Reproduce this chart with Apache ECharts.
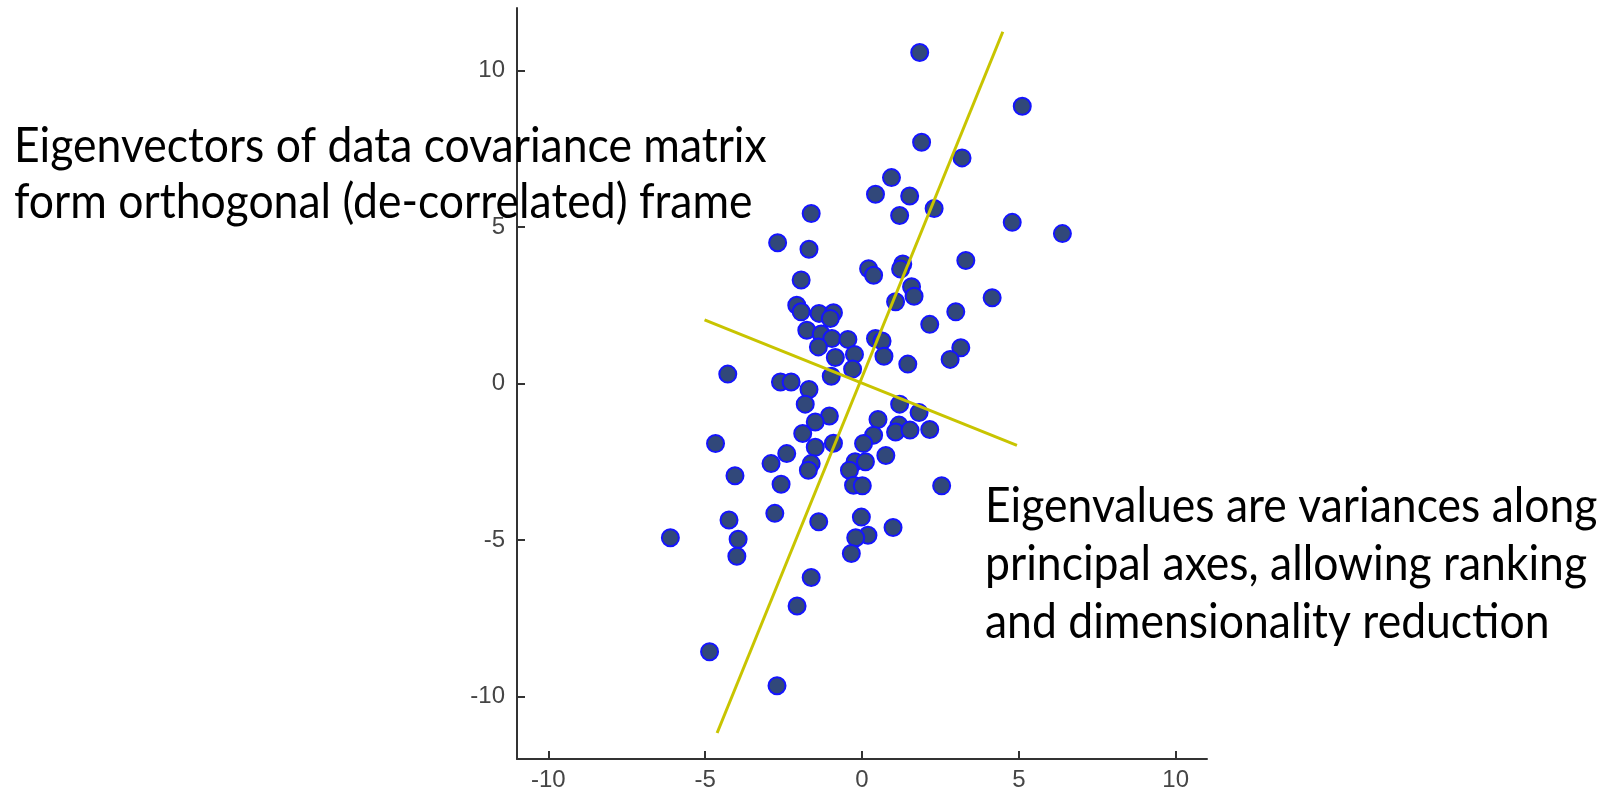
<!DOCTYPE html>
<html>
<head>
<meta charset="utf-8">
<script src="https://cdn.jsdelivr.net/npm/echarts@6/dist/echarts.min.js"></script>
<style>
  html, body { margin: 0; padding: 0; background: #ffffff; }
  #chart { width: 1612px; height: 795px; }
</style>
</head>
<body>
<div id="chart"></div>
<script>
// Tick positions on both axes
const xTicks = [-10, -5, 0, 5, 10];
const yTicks = [-10, -5, 0, 5, 10];

// Sample cloud (x, y)
const sampleX = [
  1.84, 5.11, 1.90, 3.19, 0.94, 0.43, 1.52, 2.30, 1.20, 4.79,
  6.39, -1.62, -2.69, -1.69, 3.31, 0.21, 0.37, 1.30, 1.23, 1.58,
  1.66, 1.07, 4.15, 2.99, 2.16, -1.94, -2.08, -1.94, -1.37, -0.91,
  -1.01, -1.76, -1.30, -0.96, -0.45, 0.43, 0.64, 0.70, -1.39, -0.85,
  -0.24, -0.30, -0.98, 3.15, 2.81, 1.46, -4.28, -2.60, -2.26, -1.69,
  -1.81, 1.20, 1.82, 0.51, -1.04, -1.49, 1.18, 1.07, 1.53, 2.16,
  0.37, -1.89, 0.05, -0.91, -1.49, -4.67, -2.40, 0.76, -2.90, -1.62,
  -1.71, -0.22, 0.11, -0.40, -4.05, -2.58, -0.27, 0.01, 2.54, -2.78,
  -4.24, -1.38, -0.02, 0.99, -6.11, -3.95, -3.99, 0.19, -0.20, -0.34,
  -1.62, -2.07, -4.86, -2.71
];
const sampleY = [
  10.58, 8.86, 7.71, 7.21, 6.58, 6.05, 5.99, 5.59, 5.37, 5.15,
  4.79, 5.43, 4.50, 4.29, 3.93, 3.67, 3.46, 3.82, 3.66, 3.09,
  2.79, 2.61, 2.74, 2.29, 1.89, 3.31, 2.50, 2.29, 2.24, 2.26,
  2.08, 1.70, 1.58, 1.44, 1.41, 1.44, 1.36, 0.87, 1.17, 0.83,
  0.93, 0.46, 0.23, 1.14, 0.77, 0.62, 0.30, 0.05, 0.05, -0.19,
  -0.66, -0.66, -0.93, -1.15, -1.04, -1.23, -1.33, -1.55, -1.49, -1.47,
  -1.65, -1.60, -1.92, -1.91, -2.04, -1.92, -2.24, -2.30, -2.56, -2.56,
  -2.77, -2.50, -2.50, -2.77, -2.95, -3.22, -3.25, -3.27, -3.27, -4.15,
  -4.36, -4.42, -4.27, -4.60, -4.93, -4.98, -5.52, -4.85, -4.93, -5.43,
  -6.20, -7.11, -8.57, -9.66
];

// Principal axes drawn as segments (end points)
const majorAxis = [[-4.62, -11.17], [4.49, 11.24]];
const minorAxis = [[-5.02, 2.03], [4.94, -1.98]];

// Annotation text
const noteUpper = ['Eigenvectors of data covariance matrix', 'form orthogonal (de-correlated) frame'];
const noteLower = ['Eigenvalues are variances along', 'principal axes, allowing ranking', 'and dimensionality reduction'];

const points = sampleX.map((x, i) => [x, sampleY[i]]);

const axisColor = '#333333';
const labelStyle = { color: '#454545', fontFamily: 'Liberation Sans', fontSize: 24 };
const noteFont = { fontFamily: 'Lato', fontSize: 48, fill: '#000000' };

const chart = echarts.init(document.getElementById('chart'), null, { renderer: 'canvas' });

chart.setOption({
  animation: false,
  backgroundColor: '#ffffff',
  grid: { left: 517, top: 8, width: 690, height: 751, containLabel: false, outerBoundsMode: 'none' },
  xAxis: {
    type: 'value', min: -11, max: 11,
    axisLine: { show: true, onZero: false, lineStyle: { color: axisColor, width: 2 } },
    axisTick: { show: true, inside: true, length: 8, customValues: xTicks, lineStyle: { color: axisColor, width: 2 } },
    axisLabel: Object.assign({ customValues: xTicks, margin: 9 }, labelStyle),
    splitLine: { show: false }
  },
  yAxis: {
    type: 'value', min: -12, max: 12,
    axisLine: { show: true, onZero: false, lineStyle: { color: axisColor, width: 2 } },
    axisTick: { show: true, inside: true, length: 8, customValues: yTicks, lineStyle: { color: axisColor, width: 2 } },
    axisLabel: Object.assign({ customValues: yTicks, margin: 12 }, labelStyle),
    splitLine: { show: false }
  },
  series: [
    {
      type: 'scatter',
      data: points,
      symbol: 'circle',
      symbolSize: 17,
      itemStyle: { color: '#31487a', borderColor: '#1414ff', borderWidth: 2, opacity: 1 },
      z: 2
    },
    {
      type: 'line',
      data: majorAxis,
      symbol: 'none',
      lineStyle: { color: '#c8c400', width: 3 },
      z: 3
    },
    {
      type: 'line',
      data: minorAxis,
      symbol: 'none',
      lineStyle: { color: '#c8c400', width: 3 },
      z: 3
    }
  ],
  graphic: [
    {
      type: 'text', x: 14, y: 119, scaleX: 0.927, z: 10,
      style: Object.assign({ text: noteUpper.join('\n'), align: 'left', verticalAlign: 'top', lineHeight: 56 }, noteFont)
    },
    {
      type: 'text', x: 985, y: 478, scaleX: 0.927, z: 10,
      style: Object.assign({ text: noteLower.join('\n'), align: 'left', verticalAlign: 'top', lineHeight: 58 }, noteFont)
    }
  ]
});
</script>
</body>
</html>
